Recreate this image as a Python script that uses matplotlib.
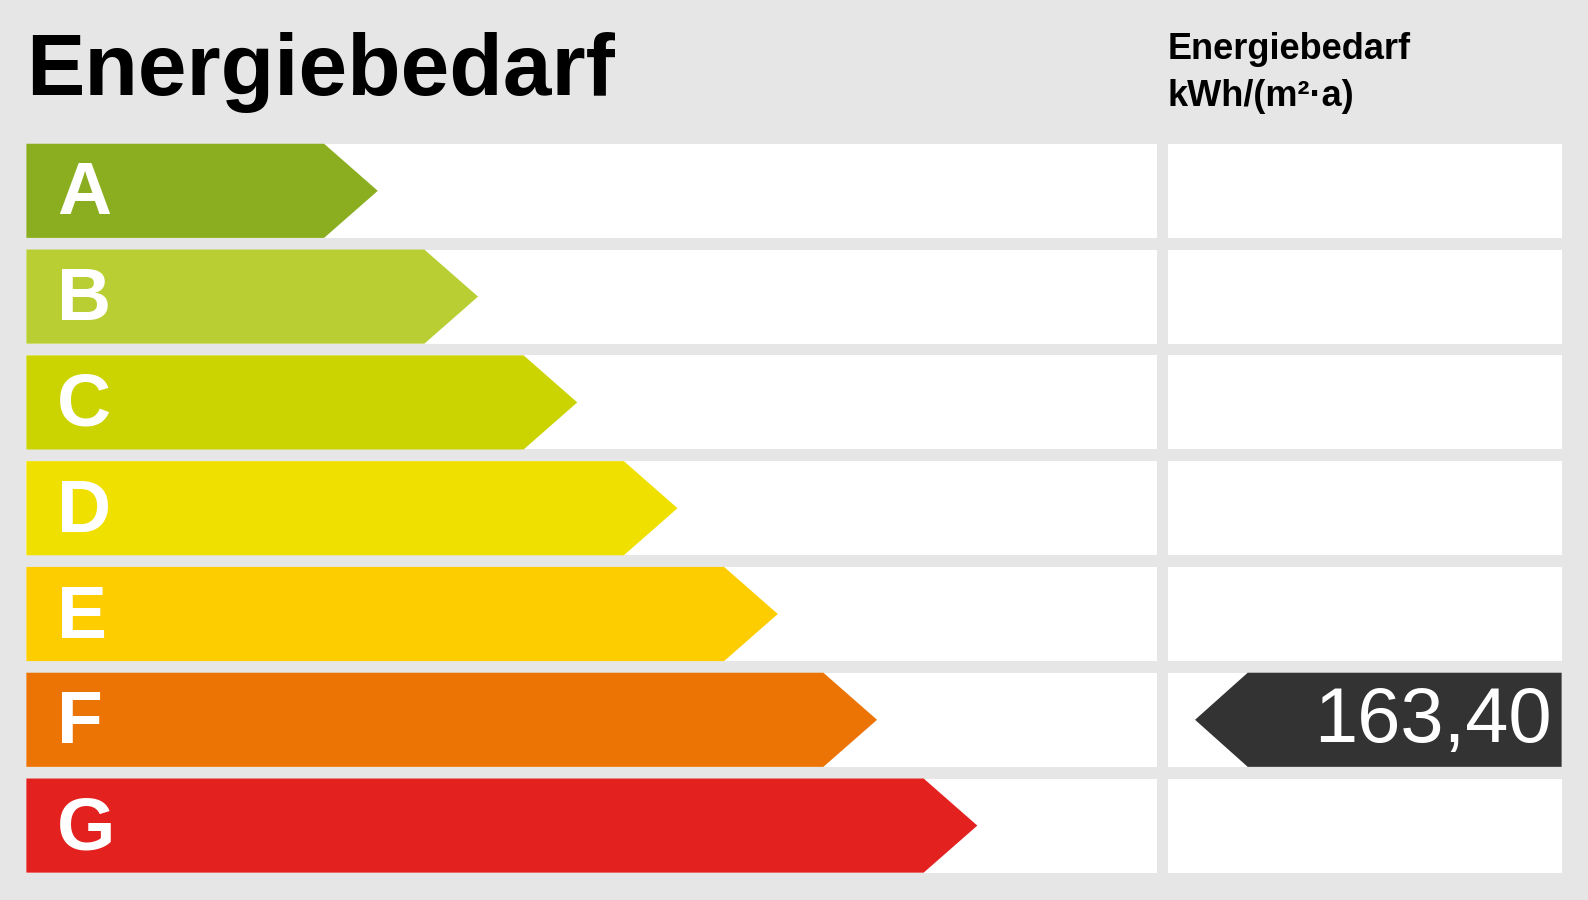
import matplotlib
matplotlib.use("Agg")
import matplotlib.pyplot as plt
from matplotlib.patches import Polygon, Rectangle

classes = ["A", "B", "C", "D", "E", "F", "G"]
colors = ["#8aae1f", "#b8ce33", "#cbd300", "#f0e000", "#fdcd00", "#ec7404", "#e3211f"]
arrow_len = [347, 446, 544, 643, 742, 840, 939]  # relative arrow lengths
value = 163.40
value_class = "F"
title = "Energiebedarf"
col_header = "Energiebedarf\nkWh/(m²·a)"

plt.rcParams['font.family'] = ['Liberation Sans', 'DejaVu Sans']
fig = plt.figure(figsize=(15.88, 9), dpi=100)
fig.patch.set_facecolor("#e6e6e6")
ax = fig.add_axes([0, 0, 1, 1])
ax.set_xlim(0, 1568); ax.set_ylim(889, 0); ax.axis("off")

x0 = 26
for i, (c, col, L) in enumerate(zip(classes, colors, arrow_len)):
    top = 142 + i * 104.5
    h = 93
    ax.add_patch(Rectangle((x0, top), 1142 - x0, h, color="white", lw=0))
    ax.add_patch(Rectangle((1153, top), 1542 - 1153, h, color="white", lw=0))
    tip = x0 + L
    ax.add_patch(Polygon([(x0, top), (tip - 53, top), (tip, top + h / 2),
                          (tip - 53, top + h), (x0, top + h)], closed=True, color=col, lw=0))
    ax.text(56, top + h / 2 + 4, c, color="white", fontsize=54, fontweight="bold",
            ha="left", va="center")
    if c == value_class:
        ax.add_patch(Polygon([(1180, top + h / 2), (1232, top), (1542, top), (1542, top + h),
                              (1232, top + h)], closed=True, color="#333333", lw=0))
        ax.text(1532, top + h / 2 + 2, f"{value:.2f}".replace(".", ","), color="white",
                fontsize=56, ha="right", va="center")

ax.text(26, 72, title, fontsize=63, fontweight="bold", ha="left", va="center", color="black")
ax.text(1153, 72, col_header, fontsize=26, fontweight="bold", ha="left", va="center",
        color="black", linespacing=1.45)

fig.savefig("out.png", dpi=100, facecolor=fig.get_facecolor())
